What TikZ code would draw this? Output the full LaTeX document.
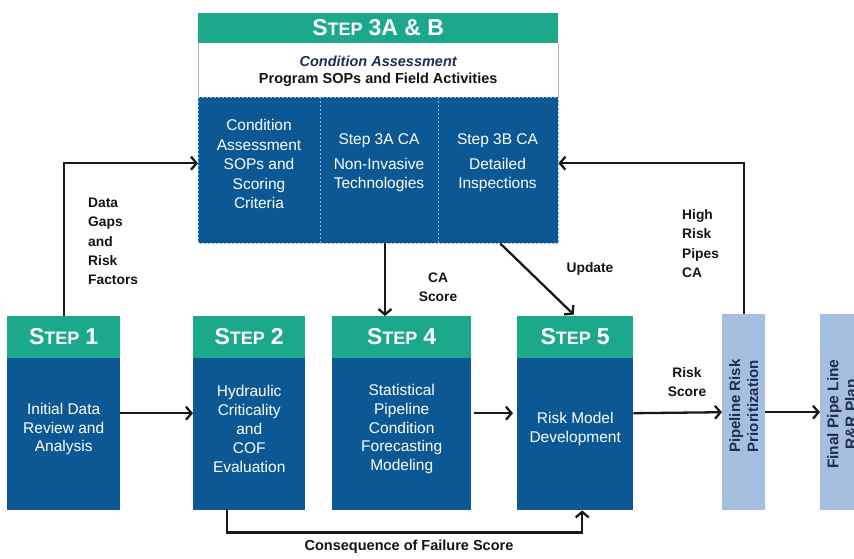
\documentclass[tikz,border=0pt]{standalone}
\usepackage{fontspec}
\setmainfont{Liberation Sans}
\usetikzlibrary{arrows.meta,calc}
\definecolor{stepgreen}{RGB}{28,168,138}
\definecolor{stepblue}{RGB}{12,88,148}
\definecolor{lightbox}{RGB}{166,190,224}
\definecolor{navytext}{RGB}{30,45,80}
\definecolor{dashblue}{RGB}{140,180,220}
\definecolor{labeltext}{RGB}{20,20,20}
\newcommand{\stepcap}[1]{{\fontsize{23}{23}\selectfont S}{\fontsize{18}{18}\selectfont TEP}\hspace{6pt}{\fontsize{23}{23}\selectfont #1}}
\newcommand{\stepblock}[5]{%
  \node[frame, minimum width=#3pt, anchor=north west] (#1) at (#2,316) {};
  \fill[stepgreen] (#1.north west) rectangle ([yshift=-42pt]#1.north east);
  \fill[stepblue] ([yshift=-42pt]#1.north west) rectangle (#1.south east);
  \node[hdrtext] (#1h) at ([yshift=-21pt]#1.north) {\stepcap{#4}};
  \node[bodytext] (#1b) at ([yshift=-113pt]#1.north) {#5};
}
\begin{document}
\begin{tikzpicture}[x=1pt,y=-1pt,
  frame/.style={draw=none, inner sep=0pt, minimum height=194pt},
  hdrtext/.style={text=white, font=\bfseries, inner sep=0pt},
  bodytext/.style={text=white, align=center, inner sep=0pt, font=\fontsize{15.5}{18.8}\selectfont},
  coltext/.style={text=white, align=center, inner sep=0pt, font=\fontsize{15.5}{19.5}\selectfont},
  lbl/.style={text=labeltext, font=\bfseries\fontsize{13.8}{19.2}\selectfont, inner sep=0pt},
  arr/.style={line width=2.3pt, draw=black!90, -{Straight Barb[length=5.5pt,width=13pt]}},
  dashline/.style={draw=dashblue, dashed, dash pattern=on 2pt off 2pt, line width=0.8pt},
  sidebox/.style={fill=lightbox, draw=none, inner sep=0pt, minimum width=43pt, minimum height=196pt, anchor=north west},
  sidetext/.style={text=navytext, rotate=90, align=center, inner sep=0pt, font=\bfseries\fontsize{15}{18}\selectfont}
]
\useasboundingbox (0,0) rectangle (854,558);
\clip (0,0) rectangle (854,558);

% ---- top box (Step 3A & B)
\node[draw=none, inner sep=0pt, minimum width=360pt, minimum height=230pt, anchor=north west] (t) at (198,13) {};
\fill[stepgreen] (t.north west) rectangle ([yshift=-30pt]t.north east);
\fill[white] ([yshift=-30pt]t.north west) rectangle ([yshift=-84pt]t.north east);
\draw[gray!60, line width=1pt] ([yshift=-30pt]t.north west) -- ([yshift=-84pt]t.north west);
\draw[gray!60, line width=1pt] ([yshift=-30pt]t.north east) -- ([yshift=-84pt]t.north east);
\fill[stepblue] ([yshift=-84pt]t.north west) rectangle (t.south east);
\draw[dashline] ([yshift=-84pt]t.north west) rectangle (t.south east);
\draw[dashline] ([xshift=122pt,yshift=-84pt]t.north west) -- ([xshift=122pt]t.south west);
\draw[dashline] ([xshift=240pt,yshift=-84pt]t.north west) -- ([xshift=240pt]t.south west);
\node[hdrtext] (th) at ([yshift=-15pt]t.north) {\stepcap{3A \& B}};
\node[align=center, inner sep=0pt, font=\bfseries\fontsize{14.5}{17}\selectfont] (tw) at ([yshift=-58pt]t.north)
  {\textcolor{navytext}{\itshape Condition Assessment}\\\textcolor{labeltext}{Program SOPs and Field Activities}};
\node[coltext] (c1) at ([xshift=61pt,yshift=-151pt]t.north west) {Condition\\Assessment\\SOPs and\\Scoring\\Criteria};
\node[coltext] (c2) at ([xshift=181pt,yshift=-150pt]t.north west) {Step 3A CA\\[5pt]Non-Invasive\\Technologies};
\node[coltext] (c3) at ([xshift=299.5pt,yshift=-150pt]t.north west) {Step 3B CA\\[5pt]Detailed\\Inspections};

% ---- step blocks
\stepblock{s1}{7}{113}{1}{Initial Data\\Review and\\Analysis}
\stepblock{s2}{193}{112}{2}{Hydraulic\\Criticality\\and\\COF\\Evaluation}
\stepblock{s4}{332}{139}{4}{Statistical\\Pipeline\\Condition\\Forecasting\\Modeling}
\stepblock{s5}{517}{116}{5}{Risk Model\\Development}

% ---- side boxes
\node[sidebox] (pr) at (722,314) {};
\node[sidetext] (prt) at ([yshift=6pt]pr.center) {Pipeline Risk\\Prioritization};
\node[sidebox] (fp) at (820,314) {};
\node[sidetext, font=\bfseries\fontsize{15.5}{18}\selectfont] (fpt) at ([yshift=-2pt]fp.center) {Final Pipe Line\\R\&R Plan};

% ---- connectors
\coordinate (caline) at (385,280);
\draw[arr] (s1.east) -- (s2.west);
\draw[arr, shorten <=3pt, shorten >=4pt] (s4.east) -- (s5.west);
\draw[arr] (s5.east) -- (pr.west);
\draw[arr] (pr.east) -- (fp.west);
\draw[arr] (s1.north) |- ([yshift=-35pt]t.west);
\draw[arr] (pr.north) |- ([yshift=-35pt]t.east);
\draw[arr] (t.south -| caline) -- (caline |- s4.north);
\draw[arr, shorten >=2pt] ([xshift=122pt]t.south) -- (s5.north);
\draw[arr] ([xshift=-22pt]s2.south) -- ++(0,22) -| ([xshift=7pt]s5.south);

% ---- labels
\node[lbl, align=left, anchor=west] (lg) at (88,241.5) {Data\\Gaps\\and\\Risk\\Factors};
\node[lbl, align=left, anchor=west] (lh) at (682,243.5) {High\\Risk\\Pipes\\CA};
\node[lbl, align=center] (lc) at (438,287) {CA\\Score};
\node[lbl] (lu) at (590,269) {Update};
\node[lbl, align=center] (lr) at (687,382) {Risk\\Score};
\node[lbl, font=\bfseries\fontsize{14.5}{17}\selectfont] (lf) at (409,547) {Consequence of Failure Score};
\end{tikzpicture}
\end{document}
